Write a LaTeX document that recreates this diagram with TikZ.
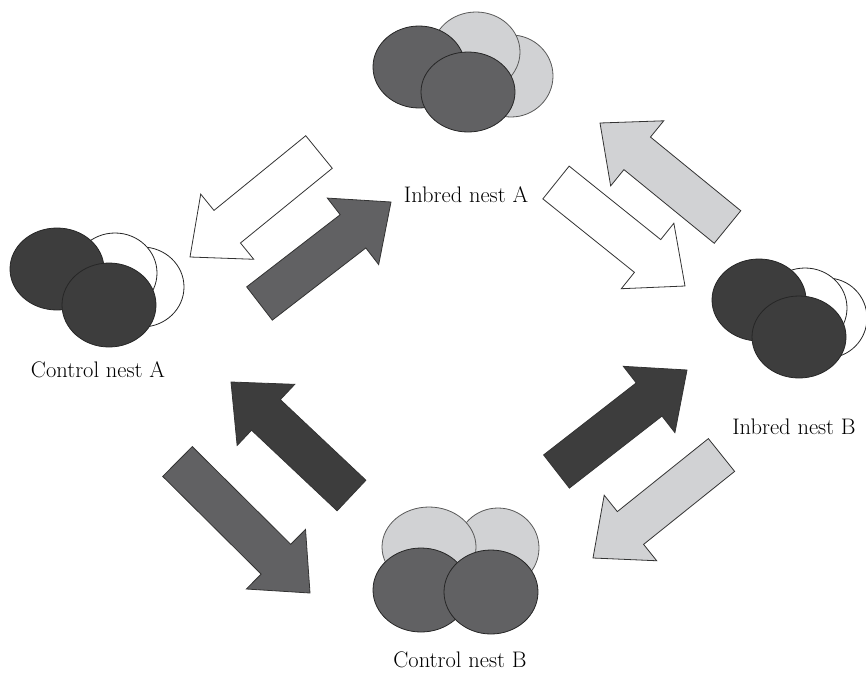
\documentclass[tikz,border=0pt]{standalone}
\usetikzlibrary{calc}
\definecolor{darkg}{HTML}{3D3D3D}
\definecolor{midg}{HTML}{616163}
\definecolor{lightg}{HTML}{D1D2D4}
\tikzset{
  blob/.style={draw=black!85, line width=0.8pt},
  lblob/.style={draw=black!65, line width=0.8pt},
  arr/.style={draw=black!80, line width=0.8pt, line join=miter},
  lbl/.style={font=\fontsize{22.5}{27}\selectfont, inner sep=0pt}
}
\newcommand{\blockarr}[4]{%
  \coordinate (#1h) at ($(#4)!48pt!(#3)$);
  \draw[arr, fill=#2] ($(#3)!21pt!90:(#4)$) -- ($(#1h)!21pt!90:(#4)$) -- ($(#1h)!42pt!90:(#4)$) -- (#4)
    -- ($(#1h)!42pt!-90:(#4)$) -- ($(#1h)!21pt!-90:(#4)$) -- ($(#3)!21pt!-90:(#4)$) -- cycle;
}
\begin{document}
\begin{tikzpicture}[x=1pt, y=-1pt]
\useasboundingbox (0,0) rectangle (866,672);
% Inbred nest A
\draw[lblob, fill=lightg] (511,76) ellipse [x radius=42pt, y radius=41pt];
\draw[lblob, fill=lightg] (476,52) ellipse [x radius=44pt, y radius=40pt];
\draw[blob, fill=midg] (419,67) ellipse [x radius=46pt, y radius=41pt];
\draw[blob, fill=midg] (468,92) ellipse [x radius=47pt, y radius=40pt];
\node[lbl] (ia) at (466,195) {Inbred nest A};
% Control nest A
\draw[blob, fill=white] (142,287) ellipse [x radius=42pt, y radius=40pt];
\draw[blob, fill=white] (115,273) ellipse [x radius=42pt, y radius=40pt];
\draw[blob, fill=darkg] (57,269) ellipse [x radius=47pt, y radius=41pt];
\draw[blob, fill=darkg] (109,305) ellipse [x radius=47pt, y radius=42pt];
\node[lbl] (ca) at (98,370) {Control nest A};
% Inbred nest B
\draw[blob, fill=white] (827,318) ellipse [x radius=40pt, y radius=40pt];
\draw[blob, fill=white] (805,308) ellipse [x radius=42pt, y radius=40pt];
\draw[blob, fill=darkg] (759,300) ellipse [x radius=47pt, y radius=41pt];
\draw[blob, fill=darkg] (799,337) ellipse [x radius=47pt, y radius=41pt];
\node[lbl] (ib) at (794,427) {Inbred nest B};
% Control nest B
\draw[lblob, fill=lightg] (498,548) ellipse [x radius=41pt, y radius=40pt];
\draw[lblob, fill=lightg] (429,547) ellipse [x radius=47pt, y radius=40pt];
\draw[blob, fill=midg] (421,590) ellipse [x radius=48pt, y radius=42pt];
\draw[blob, fill=midg] (491,592) ellipse [x radius=47pt, y radius=42pt];
\node[lbl] (cb) at (460,660) {Control nest B};
% arrow end points
\coordinate (a1t) at (319,152); \coordinate (a1p) at (190,257);
\coordinate (a2t) at (259.5,303.5); \coordinate (a2p) at (391,202);
\coordinate (a3t) at (727.5,227); \coordinate (a3p) at (600,123);
\coordinate (a4t) at (556,182.5); \coordinate (a4p) at (685,286);
\coordinate (a5t) at (351.5,495.5); \coordinate (a5p) at (231,382);
\coordinate (a6t) at (177.5,461.5); \coordinate (a6p) at (310,593);
\coordinate (a7t) at (556.5,471.5); \coordinate (a7p) at (687,370);
\coordinate (a8t) at (721.5,455); \coordinate (a8p) at (593,558);
\blockarr{a1}{white}{a1t}{a1p}
\blockarr{a2}{midg}{a2t}{a2p}
\blockarr{a3}{lightg}{a3t}{a3p}
\blockarr{a4}{white}{a4t}{a4p}
\blockarr{a5}{darkg}{a5t}{a5p}
\blockarr{a6}{midg}{a6t}{a6p}
\blockarr{a7}{darkg}{a7t}{a7p}
\blockarr{a8}{lightg}{a8t}{a8p}
\end{tikzpicture}
\end{document}
